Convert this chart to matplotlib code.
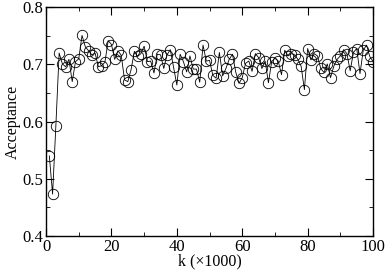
import numpy as np
import matplotlib.pyplot as plt
from matplotlib.ticker import MultipleLocator

plt.rcParams['font.family'] = ['Liberation Serif', 'DejaVu Serif']

k = np.arange(1, 101)
acceptance = [
    0.540, 0.473, 0.593, 0.720, 0.701, 0.696, 0.709, 0.670, 0.705, 0.710,
    0.751, 0.731, 0.724, 0.717, 0.720, 0.696, 0.698, 0.704, 0.742, 0.735,
    0.709, 0.724, 0.716, 0.673, 0.670, 0.691, 0.723, 0.714, 0.719, 0.732,
    0.705, 0.706, 0.685, 0.718, 0.717, 0.693, 0.717, 0.726, 0.695, 0.664,
    0.718, 0.705, 0.687, 0.715, 0.692, 0.692, 0.669, 0.734, 0.706, 0.707,
    0.681, 0.676, 0.721, 0.680, 0.693, 0.709, 0.718, 0.687, 0.667, 0.677,
    0.702, 0.706, 0.688, 0.719, 0.712, 0.693, 0.706, 0.668, 0.705, 0.711,
    0.706, 0.682, 0.725, 0.715, 0.719, 0.717, 0.709, 0.697, 0.656, 0.728,
    0.708, 0.719, 0.715, 0.693, 0.686, 0.701, 0.677, 0.697, 0.709, 0.715,
    0.726, 0.719, 0.689, 0.721, 0.728, 0.684, 0.725, 0.734, 0.714, 0.705,
]

fig = plt.figure(figsize=(3.87, 2.73), dpi=100)
ax = fig.add_axes([0.119, 0.136, 0.845, 0.837])
ax.plot(k, acceptance, color='black', linewidth=0.6, marker='o',
        markersize=7.5, markerfacecolor='none', markeredgecolor='black',
        markeredgewidth=0.6)

ax.set_xlim(0, 100)
ax.set_ylim(0.4, 0.8)
ax.xaxis.set_major_locator(MultipleLocator(20))
ax.xaxis.set_minor_locator(MultipleLocator(10))
ax.yaxis.set_major_locator(MultipleLocator(0.1))
ax.yaxis.set_minor_locator(MultipleLocator(0.05))
ax.tick_params(which='both', direction='in', top=True, right=True,
               labelsize=12, pad=2)
ax.tick_params(which='major', length=6, width=0.8)
ax.tick_params(which='minor', length=3, width=0.6)
for s in ax.spines.values():
    s.set_linewidth(1.0)

ax.set_xlabel('k (×1000)', fontsize=11.5, labelpad=-1)
ax.set_ylabel('Acceptance', fontsize=11.5, labelpad=1)

fig.savefig('out.png', dpi=100)
